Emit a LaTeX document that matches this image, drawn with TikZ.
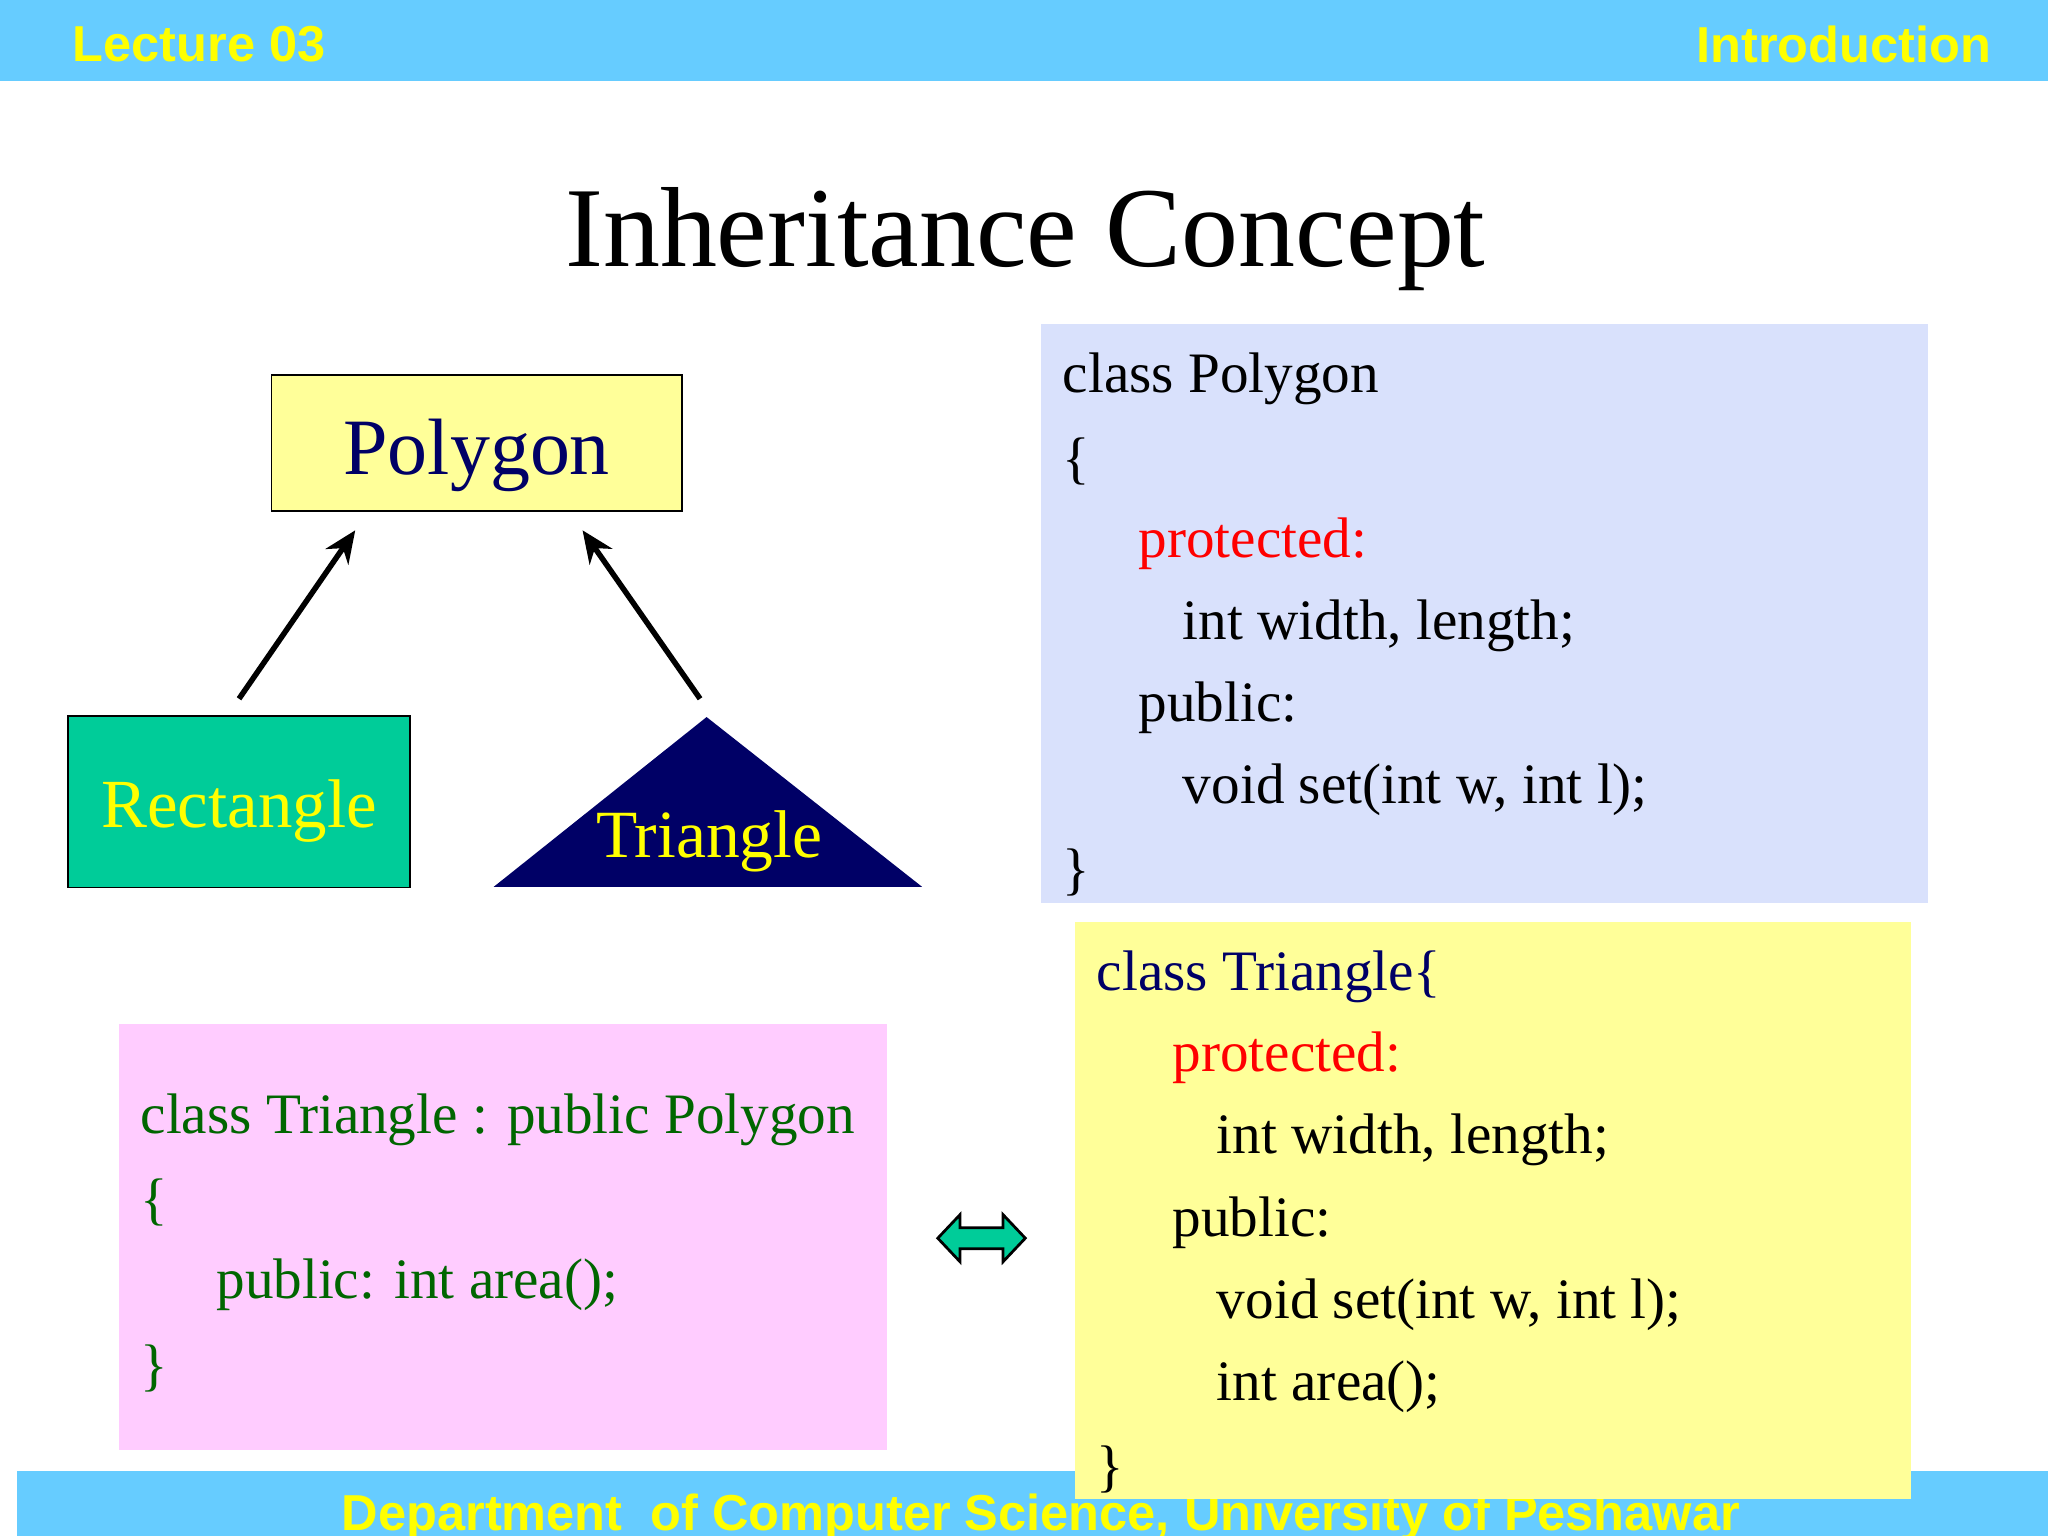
\documentclass[tikz,border=0pt]{standalone}
\usepackage{fontspec}
\usetikzlibrary{arrows.meta}
\setmainfont{Liberation Serif}
\newfontfamily\hdr{Liberation Sans}
\definecolor{barblue}{HTML}{66CCFF}
\definecolor{hyel}{HTML}{FFFF00}
\definecolor{lyel}{HTML}{FFFF99}
\definecolor{teal1}{HTML}{00CC99}
\definecolor{navy1}{HTML}{000066}
\definecolor{lblue}{HTML}{D9E1FC}
\definecolor{pink1}{HTML}{FFCCFF}
\definecolor{dgreen}{HTML}{006600}
\definecolor{red1}{HTML}{FF0000}
\begin{document}
\begin{tikzpicture}[x=0.01cm,y=-0.01cm,
  hdrtxt/.style={font=\hdr\bfseries\fontsize{11}{13}\selectfont,text=hyel,inner sep=0},
  code/.style={font=\fontsize{12.45}{15}\selectfont,anchor=west,inner sep=0}]
\useasboundingbox (0,0) rectangle (1568,1176);
\begin{scope}
\clip (0,0) rectangle (1568,1176);
\fill[barblue] (0,0) rectangle (1568,62);
\node[hdrtxt,anchor=west] (lec) at (55,34) {Lecture 03};
\node[hdrtxt,anchor=east] (intro) at (1525,34) {Introduction};
\node[font=\fontsize{24.8}{28}\selectfont] (title) at (785,183) {Inheritance Concept};
% diagram
\node[draw=black,fill=lyel,minimum width=3.14cm,minimum height=1.04cm] (poly) at (365,339) {};
\node[font=\fontsize{17.4}{20}\selectfont,text=navy1] (polyt) at (365,349) {Polygon};
\node[draw=black,fill=teal1,minimum width=2.62cm,minimum height=1.31cm] (rect) at (183,614) {};
\node[font=\fontsize{15}{18}\selectfont,text=hyel] (rectt) at (183,621) {Rectangle};
\fill[navy1] (378,679) coordinate (t1) -- (706,679) -- (541,549) coordinate (ttop) -- cycle;
\node[font=\fontsize{14.7}{17}\selectfont,text=hyel] (tri) at (543,644) {Triangle};
\coordinate (rtop) at (183,535);
\coordinate (ttip) at (536,535);
\coordinate (pa) at (272,406);
\coordinate (pb) at (446,406);
\draw[line width=1.2pt,-{Stealth[length=7pt,width=6pt]}] (rtop) -- (pa);
\draw[line width=1.2pt,-{Stealth[length=7pt,width=6pt]}] (ttip) -- (pb);
% code box 1
\fill[lblue] (797,248) rectangle (1476,691);
\node[code] at (813,290) {class Polygon};
\node[code] at (813,353) {\{};
\node[code,text=red1] at (871,416) {protected:};
\node[code] at (905,479) {int width, length;};
\node[code] at (871,542) {public:};
\node[code] at (905,605) {void set(int w, int l);};
\node[code] at (813,668) {\}};
% pink box
\fill[pink1] (91,784) rectangle (679,1110);
\node[code,text=dgreen] at (107,857) {class Triangle : public Polygon};
\node[code,text=dgreen] at (107,921) {\{};
\node[code,text=dgreen] at (165,984) {public: int area();};
\node[code,text=dgreen] at (107,1048) {\}};
% double arrow
\draw[fill=teal1,draw=black,line width=0.6pt] (718,948) -- (735,930) -- (735,940) -- (768,940) -- (768,930) -- (785,948) -- (768,966) -- (768,956) -- (735,956) -- (735,966) -- cycle;
% footer
\fill[barblue] (13,1126) rectangle (1568,1176);
\node[hdrtxt] (foot) at (797,1162) {Department\ \ of Computer Science, University of Peshawar};
% code box 2
\fill[lyel] (823,706) rectangle (1463,1148);
\node[code,text=navy1] at (839,748) {class Triangle\{};
\node[code,text=red1] at (897,810) {protected:};
\node[code] at (931,873) {int width, length;};
\node[code] at (897,936) {public:};
\node[code] at (931,999) {void set(int w, int l);};
\node[code] at (931,1062) {int area();};
\node[code] at (839,1125) {\}};
\end{scope}
\end{tikzpicture}
\end{document}
